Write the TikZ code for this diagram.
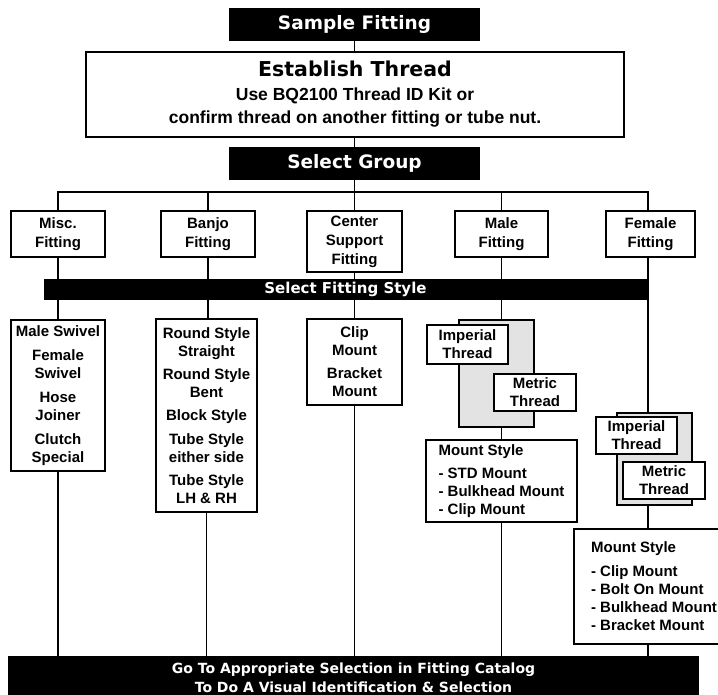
\documentclass[tikz,border=0pt]{standalone}
\usepackage{fontspec}
\setmainfont{Liberation Sans}
\newfontfamily\heavyfont{DejaVu Sans}
\usetikzlibrary{positioning}

\begin{document}
\begin{tikzpicture}[
    x=1pt, y=-1pt,
    every node/.style={inner sep=0pt, outer sep=0pt},
    blackbar/.style={
        rectangle,
        fill=black,
        text=white,
        align=center,
        font=\heavyfont\bfseries\fontsize{18.5}{22}\selectfont
    },
    groupbox/.style={
        rectangle,
        draw=black,
        line width=1.8pt,
        fill=white,
        align=center,
        font=\bfseries\fontsize{15}{19}\selectfont
    },
    listbox/.style={
        groupbox,
        font=\bfseries\fontsize{15}{18}\selectfont
    },
    threadbox/.style={
        groupbox,
        minimum width=81pt,
        minimum height=37pt,
        font=\bfseries\fontsize{15}{18}\selectfont
    },
    shadebox/.style={
        rectangle,
        draw=black,
        line width=1.8pt,
        fill=black!11
    },
    mountbox/.style={
        groupbox,
        align=left,
        font=\bfseries\fontsize{15}{18}\selectfont
    },
    link/.style={
        line width=1.8pt
    }
]
\clip (0,0) rectangle (718,695);
% TOP
\node (sample) [blackbar, minimum width=251pt, minimum height=33pt] at (354.5,24.5) {Sample Fitting};
\node (thread) [groupbox, minimum width=538pt, minimum height=85pt, font=\bfseries\fontsize{17.5}{23.5}\selectfont] at (355,94.5) {{\heavyfont\fontsize{20.5}{24}\selectfont Establish Thread}\\ Use BQ2100 Thread ID Kit or\\ confirm thread on another fitting or tube nut.};
\node (group) [blackbar, minimum width=251pt, minimum height=33pt] at (354.5,163.5) {Select Group};
\coordinate (femx) at (648,192);
% GROUPS
\node (misc) [groupbox, minimum width=94pt, minimum height=46pt] at (58,234) {Misc.\\Fitting};
\node (banjo) [groupbox, minimum width=94pt, minimum height=46pt] at (208,234) {Banjo\\Fitting};
\node (support) [groupbox, minimum width=95pt, minimum height=61pt] at (354.5,241.5) {Center\\Support\\Fitting};
\node (male) [groupbox, minimum width=93pt, minimum height=46pt] at (501.5,234) {Male\\Fitting};
\node (female) [groupbox, minimum width=89pt, minimum height=46pt] at (650.5,234) {Female\\Fitting};
\node (style) [blackbar, minimum width=603pt, minimum height=21pt, font=\heavyfont\bfseries\fontsize{15}{18}\selectfont] at (345.5,289.5) {Select Fitting Style};
% STYLES
\node (misclist) [listbox, minimum width=94pt, minimum height=151pt] at (58,395.5) {Male Swivel\\[6pt]Female\\Swivel\\[6pt]Hose\\Joiner\\[6pt]Clutch\\Special};
\node (banjolist) [listbox, minimum width=101pt, minimum height=193pt] at (206.5,415.5) {Round Style\\Straight\\[5pt]Round Style\\Bent\\[5pt]Block Style\\[6pt]Tube Style\\either side\\[5pt]Tube Style\\LH \& RH};
\node (supportlist) [listbox, minimum width=95pt, minimum height=86pt] at (354.5,362) {Clip\\Mount\\[5pt]Bracket\\Mount};
% MALE THREADS
\node (maleshade) [shadebox, minimum width=75pt, minimum height=107pt] at (496.5,373.5) {};
\node (maleimp) [threadbox, minimum height=39pt] at (467.5,344.5) {Imperial\\Thread};
\node (malemet) [threadbox, minimum width=82pt] at (535,392.5) {Metric\\Thread};
\node (malemount) [mountbox, minimum width=151pt, minimum height=82pt] at (501.5,481) {Mount Style\\[5pt]- STD Mount\\- Bulkhead Mount\\- Clip Mount};
% FEMALE THREADS
\node (femshade) [shadebox, minimum width=75pt, minimum height=92pt] at (654.5,459) {};
\node (femimp) [threadbox] at (636.5,435.5) {Imperial\\Thread};
\node (femmet) [threadbox, minimum width=82pt] at (664,480.5) {Metric\\Thread};
\node (femmount) [mountbox, minimum width=160pt, minimum height=115pt] at (654,586.5) {Mount Style\\[6pt]- Clip Mount\\- Bolt On Mount\\- Bulkhead Mount\\- Bracket Mount};
% BOTTOM
\node (catalog) [blackbar, minimum width=691pt, minimum height=44pt, font=\heavyfont\bfseries\fontsize{14}{19}\selectfont] at (353.5,678) {Go To Appropriate Selection in Fitting Catalog\\To Do A Visual Identification \& Selection};
% TOP ARROWS
\draw [link] (sample.south) -- (sample.south |- thread.north);
\draw [link] (group.north |- thread.south) -- (group.north);
\draw [link] (group.south) -- (group.south |- femx);
\draw [link] (misc.north) |- (femx) -- (femx |- female.north);
\foreach \n in {banjo, support, male}
    \draw [link] (\n.north) -- (\n.north |- femx);
% THROUGH FITTING STYLE
\foreach \n/\m in {misc/misclist, banjo/banjolist, support/supportlist, male/maleshade} {
    \draw [link] (\n.south) -- (\n.south |- style.north);
    \draw [link] (\n.south |- style.south) -- (\n.south |- \m.north);
}
\draw [link] (femx |- female.south) -- (femx |- femshade.north);
% DOWN TO CATALOG
\draw [link] (male.south |- maleshade.south) -- (male.south |- malemount.north);
\draw [link] (femx |- femshade.south) -- (femx |- femmount.north);
\foreach \m in {misclist, banjolist, supportlist, malemount}
    \draw [link] (\m.south) -- (\m.south |- catalog.north);
\draw [link] (femx |- femmount.south) -- (femx |- catalog.north);
\end{tikzpicture}
\end{document}
